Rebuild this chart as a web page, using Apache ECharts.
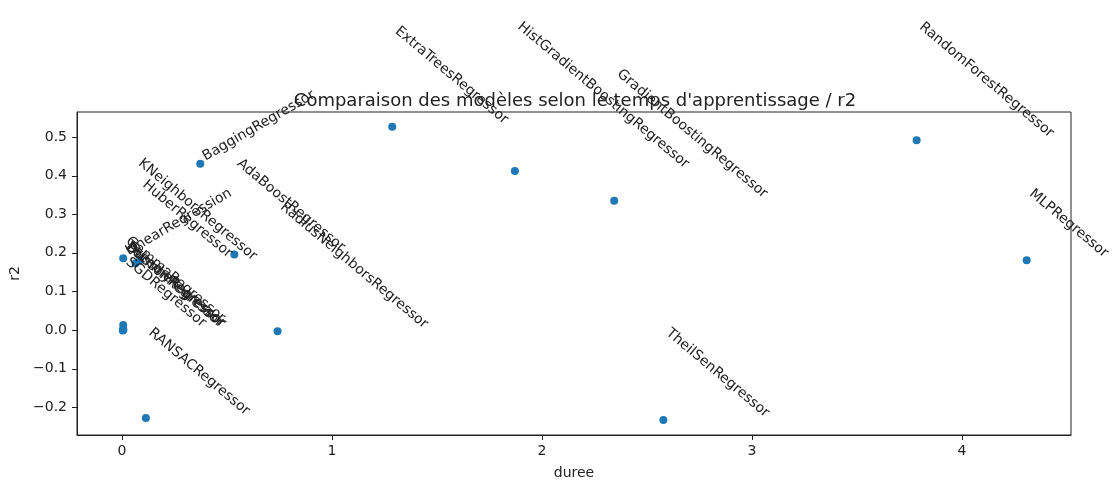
<!DOCTYPE html>
<html>
<head>
<meta charset="utf-8">
<script src="https://cdn.jsdelivr.net/npm/echarts@6/dist/echarts.min.js"></script>
<style>
  html, body { margin: 0; padding: 0; background: #fff; }
  #chart { width: 1115px; height: 481px; }
</style>
</head>
<body>
<div id="chart"></div>
<script>
// modèles, temps d'apprentissage (s) et score r2
var modeles = ['LinearRegression', 'KNeighborsRegressor', 'HuberRegressor', 'BaggingRegressor',
    'AdaBoostRegressor', 'RadiusNeighborsRegressor', 'RANSACRegressor', 'ExtraTreesRegressor',
    'HistGradientBoostingRegressor', 'GradientBoostingRegressor', 'RandomForestRegressor',
    'MLPRegressor', 'TheilSenRegressor', 'SGDRegressor', 'DummyRegressor', 'GammaRegressor',
    'PoissonRegressor', 'TweedieRegressor'];
var duree = [0.006, 0.065, 0.085, 0.373, 0.535, 0.741, 0.114, 1.287, 1.871, 2.344, 3.784,
    4.308, 2.578, 0.005, 0.004, 0.006, 0.007, 0.005];
var r2 = [0.186, 0.173, 0.180, 0.431, 0.196, -0.003, -0.228, 0.527, 0.412, 0.335, 0.492,
    0.181, -0.233, 0.0, -0.001, 0.013, 0.001, 0.0];
var xTicks = [0, 1, 2, 3, 4];
var yTicks = [-0.2, -0.1, 0.0, 0.1, 0.2, 0.3, 0.4, 0.5];

// étiquettes écrites vers le haut, les autres descendent
var montants = ['LinearRegression', 'BaggingRegressor'];

var police = 'DejaVu Sans';
var taille = 14;
var ctx = document.createElement('canvas').getContext('2d');
ctx.font = taille + 'px "' + police + '"';

var points = modeles.map(function (nom, i) {
    var monte = montants.indexOf(nom) >= 0;
    var w = ctx.measureText(nom).width;
    var h = taille;
    var a = (monte ? 30 : 40) * Math.PI / 180;
    var off = monte
        ? [h * Math.sin(a) * Math.cos(a), h * Math.sin(a) * Math.sin(a)]
        : [-w * Math.sin(a) * Math.sin(a), -w * Math.sin(a) * Math.cos(a)];
    return {
        name: nom,
        value: [duree[i], r2[i]],
        label: { rotate: monte ? 30 : -40, offset: off }
    };
});

var xMin = -0.214, xMax = 4.519, yMin = -0.272, yMax = 0.565;

var chart = echarts.init(document.getElementById('chart'));
var option = {
    animation: false,
    textStyle: { fontFamily: police },
    title: {
        text: "Comparaison des modèles selon le temps d'apprentissage / r2",
        left: 570,
        top: 87,
        textAlign: 'center',
        textStyle: { fontSize: 18, fontWeight: 'normal', color: '#222', fontFamily: police }
    },
    grid: {
        left: 77, right: 44, top: 112, bottom: 46,
        outerBoundsMode: 'none',
        containLabel: false,
        show: true, borderColor: '#222', borderWidth: 1
    },
    xAxis: {
        type: 'value',
        min: xMin, max: xMax,
        name: 'duree', nameLocation: 'middle', nameGap: 31,
        nameTextStyle: { fontSize: 14, color: '#222' },
        axisLine: { show: true, onZero: false, lineStyle: { color: '#222', width: 1 } },
        splitLine: { show: false },
        axisTick: { show: false },
        axisLabel: { customValues: xTicks, fontSize: 14, color: '#222', margin: 9 }
    },
    yAxis: {
        type: 'value',
        min: yMin, max: yMax,
        name: 'r2', nameLocation: 'middle', nameGap: 45, nameRotate: 90,
        nameTextStyle: { fontSize: 14, color: '#222' },
        axisLine: { show: true, onZero: false, lineStyle: { color: '#222', width: 1 } },
        splitLine: { show: false },
        axisTick: { show: false },
        axisLabel: {
            customValues: yTicks, fontSize: 14, color: '#222', margin: 10,
            formatter: function (v) {
                return (v < -1e-9 ? '\u2212' : '') + Math.abs(v).toFixed(1);
            }
        }
    },
    series: [{
        type: 'scatter',
        symbolSize: 8,
        itemStyle: { color: '#1f77b4', opacity: 1 },
        label: {
            show: true,
            position: 'inside',
            formatter: '{b}',
            align: 'left',
            verticalAlign: 'bottom',
            fontSize: taille,
            fontFamily: police,
            color: '#222'
        },
        emphasis: { disabled: true },
        data: points
    }]
};
chart.setOption(option);

// petites graduations extérieures, placées par l'échelle des axes
var tracees = false;
function graduations() {
    if (tracees) return;
    var bas = chart.convertToPixel({ xAxisIndex: 0, yAxisIndex: 0 }, [xMin, yMin]);
    if (!bas || isNaN(bas[0])) return;
    tracees = true;
    var traits = [];
    xTicks.forEach(function (v) {
        var p = chart.convertToPixel({ xAxisIndex: 0, yAxisIndex: 0 }, [v, yMin]);
        var px = Math.round(p[0]) + 0.5;
        traits.push({ type: 'line', silent: true, z: 100,
            shape: { x1: px, y1: bas[1], x2: px, y2: bas[1] + 5 },
            style: { stroke: '#222', lineWidth: 1 } });
    });
    yTicks.forEach(function (v) {
        var p = chart.convertToPixel({ xAxisIndex: 0, yAxisIndex: 0 }, [xMin, v]);
        var py = Math.round(p[1]) + 0.5;
        traits.push({ type: 'line', silent: true, z: 100,
            shape: { x1: bas[0] - 5, y1: py, x2: bas[0], y2: py },
            style: { stroke: '#222', lineWidth: 1 } });
    });
    chart.setOption({ graphic: { elements: traits } });
}
chart.on('finished', graduations);
graduations();
</script>
</body>
</html>
